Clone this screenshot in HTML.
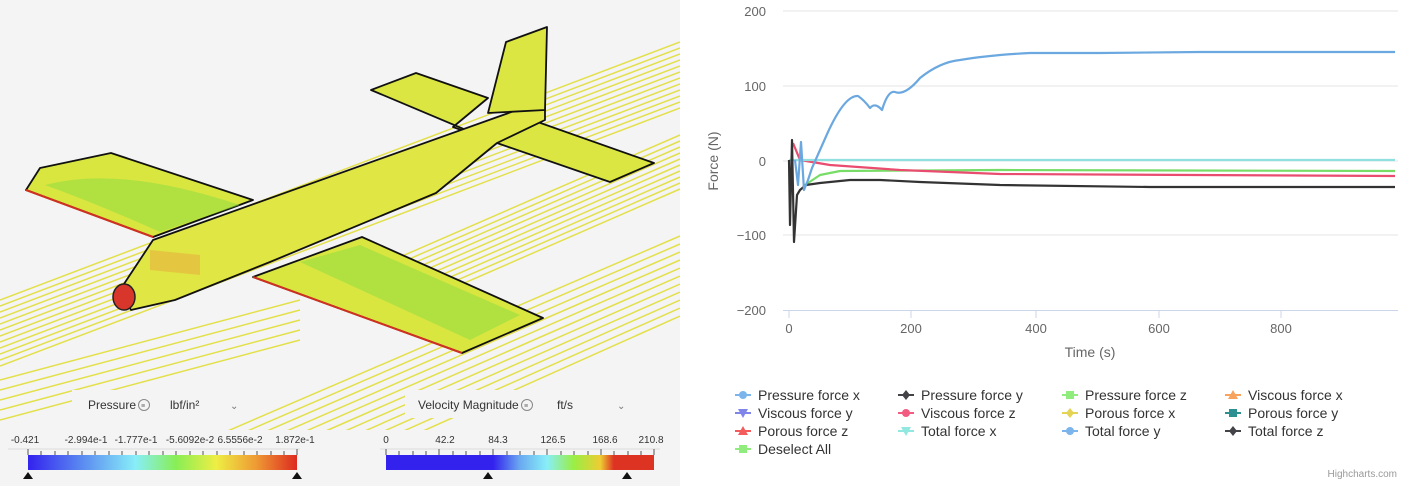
<!DOCTYPE html>
<html><head><meta charset="utf-8"><style>
html,body{margin:0;padding:0;width:1418px;height:486px;overflow:hidden;background:#fff;font-family:"Liberation Sans",sans-serif}
</style></head><body>
<svg width="1418" height="486" viewBox="0 0 1418 486" xmlns="http://www.w3.org/2000/svg" style="position:absolute;left:0;top:0">
<defs>
<linearGradient id="pg" x1="0" x2="1"><stop offset="0" stop-color="#3322ee"/><stop offset="0.2" stop-color="#5a8af0"/><stop offset="0.4" stop-color="#88eef8"/><stop offset="0.55" stop-color="#88ee55"/><stop offset="0.7" stop-color="#eeee44"/><stop offset="0.85" stop-color="#ee9933"/><stop offset="1" stop-color="#dd2a20"/></linearGradient>
<linearGradient id="vg" x1="0" x2="1"><stop offset="0" stop-color="#3322ee"/><stop offset="0.4" stop-color="#3322ee"/><stop offset="0.5" stop-color="#6aaaf0"/><stop offset="0.6" stop-color="#88eef8"/><stop offset="0.7" stop-color="#99ee44"/><stop offset="0.8" stop-color="#eecc33"/><stop offset="0.85" stop-color="#dd3322"/><stop offset="1" stop-color="#dd3322"/></linearGradient>
<clipPath id="lc"><rect x="0" y="0" width="680" height="486"/></clipPath>
</defs>
<rect x="0" y="0" width="680" height="486" fill="#f4f4f4"/>
<g stroke="#e3e04a" stroke-width="1.5" fill="none" clip-path="url(#lc)">
<path d="M0 300 L680 42 M0 306 L680 48 M0 312 L680 54 M0 318 L680 60 M0 324 L680 66 M0 330 L680 72 M0 336 L680 78 M0 342 L680 84 M0 348 L680 90 M0 354 L680 96 M0 360 L680 102 M0 366 L680 108"/>
<path d="M400 257 L680 135 M400 263 L680 141 M400 269 L680 147 M400 275 L680 153 M400 281 L680 159 M400 287 L680 165 M400 293 L680 171 M400 299 L680 177 M400 305 L680 183 M400 311 L680 189"/>
<path d="M100 486 L680 236 M120 486 L680 244 M140 486 L680 252 M160 486 L680 260 M180 486 L680 268 M200 486 L680 276 M220 486 L680 284 M240 486 L680 292 M260 486 L680 300 M280 486 L680 308 M300 486 L680 316"/>
<path d="M0 380 L300 300 M0 390 L300 310 M0 400 L300 320 M0 410 L300 330 M0 420 L300 340"/>
</g>
<g stroke="#111" stroke-width="1.8" stroke-linejoin="round">
<polygon points="26,190 40,168 111,153 253,200 153,237" fill="#d9e640"/>
<polygon points="362,237 543,318 462,353 253,277" fill="#d9e640"/>
<polygon points="371,90 416,73 488,98 453,127 497,143 532,120 654,163 610,182 497,143" fill="#dbe642"/>
<polygon points="120,290 153,240 545,100 545,120 497,143 436,193 270,262 175,300 131,310" fill="#e0e644"/>
<polygon points="488,113 506,42 547,27 545,110" fill="#dbe642"/>
</g>
<path d="M45 185 Q120 165 240 205 L160 232 Q100 205 45 185Z" fill="#8fdd40" opacity="0.55"/>
<path d="M300 262 L360 245 L520 315 L470 340Z" fill="#8fdd40" opacity="0.55"/>
<path d="M150 250 L200 255 L200 275 L150 270Z" fill="#e7b040" opacity="0.6"/>
<line x1="26" y1="190" x2="153" y2="237" stroke="#d03020" stroke-width="2"/>
<line x1="253" y1="277" x2="462" y2="353" stroke="#d03020" stroke-width="2"/>
<ellipse cx="124" cy="297" rx="11" ry="13" fill="#d8362a" stroke="#222" stroke-width="1.5"/>
<rect x="72" y="390" width="180" height="28" fill="#f4f4f4"/>
<rect x="405" y="390" width="235" height="28" fill="#f4f4f4"/>
<text x="88" y="409" font-size="12" fill="#333">Pressure</text><circle cx="144" cy="405" r="5.5" fill="none" stroke="#888"/><text x="141" y="408" font-size="7" fill="#666">≡</text>
<text x="170" y="409" font-size="12" fill="#333">lbf/in²</text><text x="230" y="409" font-size="10" fill="#777">⌄</text>
<text x="418" y="409" font-size="12" fill="#333">Velocity Magnitude</text><circle cx="527" cy="405" r="5.5" fill="none" stroke="#888"/><text x="524" y="408" font-size="7" fill="#666">≡</text>
<text x="557" y="409" font-size="12" fill="#333">ft/s</text><text x="617" y="409" font-size="10" fill="#777">⌄</text>
<rect x="0" y="430" width="680" height="56" fill="#f4f4f4"/>
<g font-size="10" fill="#333" text-anchor="middle">
<text x="25" y="443">-0.421</text><text x="86" y="443">-2.994e-1</text><text x="136" y="443">-1.777e-1</text><text x="190" y="443">-5.6092e-2</text><text x="240" y="443">6.5556e-2</text><text x="295" y="443">1.872e-1</text>
<text x="386" y="443">0</text><text x="445" y="443">42.2</text><text x="498" y="443">84.3</text><text x="553" y="443">126.5</text><text x="605" y="443">168.6</text><text x="651" y="443">210.8</text>
</g>
<g stroke="#555" stroke-width="1">
<line x1="8" y1="449" x2="300" y2="449" stroke="#ddd"/><line x1="380" y1="449" x2="660" y2="449" stroke="#ddd"/>
<path d="M28 449v6M41 451v4M55 451v4M68 451v4M82 451v4M95 451v4M109 451v4M122 451v4M136 451v4M149 451v4M163 451v4M176 451v4M190 451v4M203 451v4M217 451v4M230 451v4M244 451v4M257 451v4M271 451v4M284 451v4M297 449v6"/>
<path d="M386 449v6M439 449v6M493 449v6M547 449v6M601 449v6M654 449v6M399 451v4M413 451v4M426 451v4M453 451v4M466 451v4M480 451v4M507 451v4M520 451v4M534 451v4M561 451v4M574 451v4M588 451v4M614 451v4M628 451v4M641 451v4"/>
</g>
<rect x="28" y="455" width="269" height="15" fill="url(#pg)"/>
<rect x="386" y="455" width="268" height="15" fill="url(#vg)"/>
<g fill="#111"><path d="M23 479l5-7 5 7z"/><path d="M292 479l5-7 5 7z"/><path d="M483 479l5-7 5 7z"/><path d="M622 479l5-7 5 7z"/></g>

<!-- chart -->
<g stroke="#e6e6e6" stroke-width="1">
<line x1="783" y1="11" x2="1398" y2="11"/><line x1="783" y1="86" x2="1398" y2="86"/><line x1="783" y1="161" x2="1398" y2="161"/><line x1="783" y1="235" x2="1398" y2="235"/>
</g>
<line x1="783" y1="310.5" x2="1398" y2="310.5" stroke="#ccd6eb"/>
<g stroke="#ccd6eb"><path d="M789 310v8M911 310v8M1036 310v8M1159 310v8M1281 310v8"/></g>
<g font-size="13" fill="#666" text-anchor="end">
<text x="766" y="16">200</text><text x="766" y="91">100</text><text x="766" y="166">0</text><text x="766" y="240">−100</text><text x="766" y="315">−200</text>
</g>
<g font-size="13" fill="#666" text-anchor="middle">
<text x="789" y="333">0</text><text x="911" y="333">200</text><text x="1036" y="333">400</text><text x="1159" y="333">600</text><text x="1281" y="333">800</text>
<text x="1090" y="357" font-size="14">Time (s)</text>
</g>
<text transform="translate(718,161) rotate(-90)" font-size="14" fill="#666" text-anchor="middle">Force (N)</text>
<g fill="none" stroke-width="2.2" stroke-linejoin="round">
<polyline stroke="#77dd66" points="805,185 820,175 840,171 1000,170 1395,171"/>
<polyline stroke="#e94c6f" points="793,143 800,160 830,165 900,170 1000,174 1395,176"/>
<polyline stroke="#90e0e0" points="789,160 1395,160"/>
<polyline stroke="#333" points="789,160 790,225 792,140 794,242 797,195 800,190 806,185 820,183 850,180 880,180 920,182 1000,185 1150,187 1395,187"/>
<path stroke="#6ba8e0" d="M795 160 L798 185 L801 142 L804 190 L808 180 L812 168 Q820 150 828 132 Q845 95 858 96 Q864 100 870 108 Q875 102 882 110 Q888 90 895 92 Q905 96 920 78 Q940 62 960 60 Q990 55 1030 53 L1100 53 L1200 52 L1300 52 L1395 52"/>
</g>
<g font-size="14" fill="#333">
<g transform="translate(735,395)"><line x1="0" y1="0" x2="16" y2="0" stroke="#7cb5ec" stroke-width="2"/><circle cx="8" cy="0" r="4" fill="#7cb5ec"/><text x="23" y="5">Pressure force x</text></g>
<g transform="translate(898,395)"><line x1="0" y1="0" x2="16" y2="0" stroke="#434348" stroke-width="2"/><path d="M8 -5l4 5-4 5-4-5z" fill="#434348"/><text x="23" y="5">Pressure force y</text></g>
<g transform="translate(1062,395)"><line x1="0" y1="0" x2="16" y2="0" stroke="#90ed7d" stroke-width="2"/><rect x="4" y="-4" width="8" height="8" fill="#90ed7d"/><text x="23" y="5">Pressure force z</text></g>
<g transform="translate(1225,395)"><line x1="0" y1="0" x2="16" y2="0" stroke="#f7a35c" stroke-width="2"/><path d="M8 -5l5 9h-10z" fill="#f7a35c"/><text x="23" y="5">Viscous force x</text></g>
<g transform="translate(735,413)"><line x1="0" y1="0" x2="16" y2="0" stroke="#8085e9" stroke-width="2"/><path d="M3 -4h10l-5 9z" fill="#8085e9"/><text x="23" y="5">Viscous force y</text></g>
<g transform="translate(898,413)"><line x1="0" y1="0" x2="16" y2="0" stroke="#f15c80" stroke-width="2"/><circle cx="8" cy="0" r="4" fill="#f15c80"/><text x="23" y="5">Viscous force z</text></g>
<g transform="translate(1062,413)"><line x1="0" y1="0" x2="16" y2="0" stroke="#e4d354" stroke-width="2"/><path d="M8 -5l4 5-4 5-4-5z" fill="#e4d354"/><text x="23" y="5">Porous force x</text></g>
<g transform="translate(1225,413)"><line x1="0" y1="0" x2="16" y2="0" stroke="#2b908f" stroke-width="2"/><rect x="4" y="-4" width="8" height="8" fill="#2b908f"/><text x="23" y="5">Porous force y</text></g>
<g transform="translate(735,431)"><line x1="0" y1="0" x2="16" y2="0" stroke="#f45b5b" stroke-width="2"/><path d="M8 -5l5 9h-10z" fill="#f45b5b"/><text x="23" y="5">Porous force z</text></g>
<g transform="translate(898,431)"><line x1="0" y1="0" x2="16" y2="0" stroke="#91e8e1" stroke-width="2"/><path d="M3 -4h10l-5 9z" fill="#91e8e1"/><text x="23" y="5">Total force x</text></g>
<g transform="translate(1062,431)"><line x1="0" y1="0" x2="16" y2="0" stroke="#7cb5ec" stroke-width="2"/><circle cx="8" cy="0" r="4" fill="#7cb5ec"/><text x="23" y="5">Total force y</text></g>
<g transform="translate(1225,431)"><line x1="0" y1="0" x2="16" y2="0" stroke="#434348" stroke-width="2"/><path d="M8 -5l4 5-4 5-4-5z" fill="#434348"/><text x="23" y="5">Total force z</text></g>
<g transform="translate(735,449)"><line x1="0" y1="0" x2="16" y2="0" stroke="#90ed7d" stroke-width="2"/><rect x="4" y="-4" width="8" height="8" fill="#90ed7d"/><text x="23" y="5">Deselect All</text></g>
</g>
<text x="1397" y="477" font-size="10" fill="#999" text-anchor="end">Highcharts.com</text>
</svg>
</body></html>
